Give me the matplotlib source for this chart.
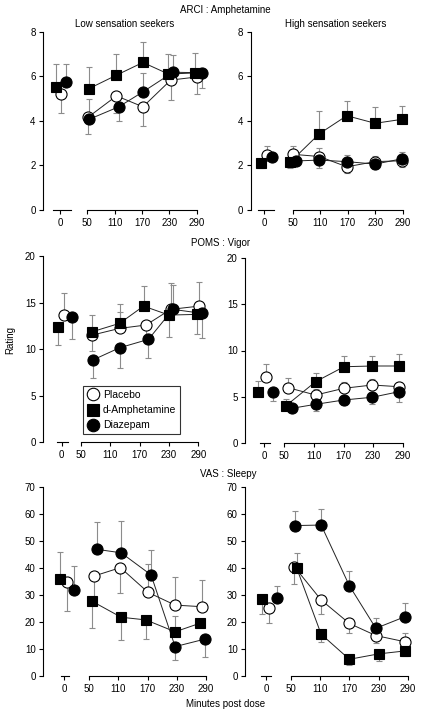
import matplotlib
matplotlib.use('Agg')
import matplotlib.pyplot as plt
from matplotlib.lines import Line2D

plt.rcParams['font.family'] = ['Liberation Sans', 'DejaVu Sans']
plt.rcParams['font.size'] = 7

# nominal time points (minutes post dose), first one is the baseline "0"
tick_labels = ['0', '50', '110', '170', '230', '290']

# ---- ARCI : Amphetamine ----
arci_low_pla = [5.2, 4.16, 5.12, 4.63, 5.83, 5.97]
arci_low_pla_err = [-0.86, -0.77, -0.75, -0.88, -0.9, -0.77]
arci_low_amp = [5.5, 5.45, 6.05, 6.62, 6.1, 6.15]
arci_low_amp_err = [1.07, 0.98, 0.93, 0.9, 0.92, 0.88]
arci_low_dia = [5.73, 4.07, 4.63, 5.3, 6.18, 6.16]
arci_low_dia_err = [0.8, 0.93, -0.64, 0.83, 0.77, -0.7]

arci_high_pla = [2.47, 2.5, 2.4, 1.94, 2.17, 2.21]
arci_high_pla_err = [0.41, 0.38, 0.37, -0.27, 0.25, -0.27]
arci_high_amp = [2.09, 2.14, 3.42, 4.23, 3.89, 4.07]
arci_high_amp_err = [-0.2, -0.27, 1.02, 0.66, 0.71, 0.61]
arci_high_dia = [2.37, 2.2, 2.24, 2.17, 2.06, 2.3]
arci_high_dia_err = [-0.15, -0.2, -0.37, 0.3, -0.2, 0.3]

# ---- POMS : Vigor ----
poms_low_pla = [13.66, 11.51, 12.23, 12.59, 14.27, 14.62]
poms_low_pla_err = [2.33, -1.68, 1.8, -1.7, 2.79, 2.61]
poms_low_amp = [12.34, 11.87, 12.77, 14.62, 13.66, 13.73]
poms_low_amp_err = [-1.9, 1.79, 2.04, 2.15, -2.33, -2.11]
poms_low_dia = [13.41, 8.83, 10.15, 11.05, 14.27, 13.84]
poms_low_dia_err = [-2.36, -1.96, -2.21, -2.04, 2.6, -2.68]

poms_high_pla = [7.18, 5.99, 5.2, 5.93, 6.28, 6.1]
poms_high_pla_err = [1.37, 1.01, 0.6, 0.71, 0.65, 0.54]
poms_high_amp = [5.5, 4.05, 6.64, 8.25, 8.33, 8.33]
poms_high_amp_err = [1.25, 0.72, 0.97, 1.16, 1.11, 1.26]
poms_high_dia = [5.5, 3.77, 4.2, 4.67, 4.96, 5.56]
poms_high_dia_err = [-0.94, -0.3, -0.69, -0.54, -0.73, -1.08]

# ---- VAS : Sleepy ----
vas_low_pla = [35.0, 37.1, 40.2, 31.0, 26.3, 25.7]
vas_low_pla_err = [-10.8, -8.0, -9.5, 10.5, 10.5, 9.9]
vas_low_amp = [36.0, 27.8, 21.8, 20.8, 16.4, 19.6]
vas_low_amp_err = [10.1, -10.1, -8.4, -7.1, 5.9, 0]
vas_low_dia = [31.9, 47.0, 45.7, 37.5, 10.9, 13.7]
vas_low_dia_err = [8.9, 10.2, 11.8, 9.2, -5.0, -6.8]

vas_high_pla = [25.3, 40.5, 28.2, 19.5, 15.0, 12.7]
vas_high_pla_err = [-5.8, -6.5, -5.3, -3.7, -2.9, 3.1]
vas_high_amp = [28.4, 39.9, 15.5, 6.2, 8.2, 9.3]
vas_high_amp_err = [-5.4, 5.6, -2.8, -2.0, -2.6, -2.0]
vas_high_dia = [29.1, 55.8, 56.0, 33.5, 17.7, 22.0]
vas_high_dia_err = [4.3, 5.4, 5.8, 5.4, 3.9, 5.2]

W, H = 422, 715
fig = plt.figure(figsize=(W / 100, H / 100), dpi=100)

ERR = '#8c8c8c'


def draw_series(ax, xs, ys, errs, marker, face, ms):
    lo = [-e if e < 0 else 0 for e in errs]
    hi = [e if e > 0 else 0 for e in errs]
    ax.errorbar(xs, ys, yerr=[lo, hi], fmt='none', ecolor=ERR, elinewidth=0.8,
                capsize=2, capthick=0.8, zorder=1, clip_on=False)
    ax.plot(xs[1:], ys[1:], '-', color='#222222', lw=0.7, zorder=2, clip_on=False)
    ax.plot(xs, ys, linestyle='none', marker=marker, ms=ms, mfc=face, mec='black',
            mew=0.8, zorder=3, clip_on=False)


def panel(box, ymax, yticks, base, seg, series, offs):
    # box: pixel geometry (left, x of 50, x of 290, right, y of ymax, y of 0)
    left, x50, x290, right, ytop, y0 = box
    sc = (x290 - x50) / 240
    ax = fig.add_axes([left / W, 1 - y0 / H, (right - left) / W, (y0 - ytop) / H])
    ax.set_xlim(50 - (x50 - left) / sc, 290 + (right - x290) / sc)
    ax.set_ylim(0, ymax)
    ax.patch.set_alpha(0)
    for s in ['top', 'right', 'bottom']:
        ax.spines[s].set_visible(False)
    ax.spines['left'].set_linewidth(0.8)
    ax.spines['left'].set_bounds(0, ymax)
    tpos = [base, 50, 110, 170, 230, 290]
    ax.set_xticks(tpos)
    ax.set_xticklabels(tick_labels)
    ax.set_yticks(yticks)
    ax.tick_params(direction='out', length=3, width=0.8, pad=2.5, labelsize=7)
    # broken x axis
    ax.plot([base + seg[0], base + seg[1]], [0, 0], color='black', lw=0.8, clip_on=False)
    ax.plot([50, 290], [0, 0], color='black', lw=0.8, clip_on=False)
    styles = [('o', 'white', 8), ('s', 'black', 7.8), ('o', 'black', 8)]
    for (ys, errs), off, st in zip(series, offs, styles):
        xs = [t + o for t, o in zip(tpos, off)]
        draw_series(ax, xs, ys, errs, *st)
    return ax


# x offsets of the plotted points from the nominal ticks (placebo, amphetamine, diazepam)
offs_tl = [[2, 1.5, 4, 2, 3, 1], [-9.5, 4, 4, 2, -2, -4], [12.5, 4, 9, 2, 8, 11]]
offs_tr = [[5, 0, -2, -2, 0, -1], [-7, -6, -2, -2, 0, -1], [16, 7, -2, -2, 0, -1]]
offs_ml = [[5, 23, 19, 13, 3.5, 1.5], [-7, 23, 19, 8, 0, -3], [21, 24, 19, 18, 8, 8]]
offs_mr = [[3, 8, 3.5, 1, -2, -7.5], [-12, 3.5, 3.5, 1, -2, -7.5], [17, 15, 3.5, 1, -2, -7.5]]
offs_bl = [[5, 10, 4, 1, -3.5, -7.5], [-9, 5, 5.5, -3.5, -3.5, -12], [20, 15, 5.5, 7, -3.5, -2]]
offs_br = [[7, 7, 2, 0, -5.5, -5.5], [-8, 12, 2, 0, 0, -5.5], [22.6, 8, 2, 0, -5.5, -5.5]]

panel((43.3, 87.3, 196.7, 210, 31.7, 210), 8, [0, 2, 4, 6, 8], -10, (-15, 24),
      [(arci_low_pla, arci_low_pla_err), (arci_low_amp, arci_low_amp_err),
       (arci_low_dia, arci_low_dia_err)], offs_tl)
panel((251, 292.7, 402.7, 415, 31.7, 210), 8, [0, 2, 4, 6, 8], -12, (-14, 22),
      [(arci_high_pla, arci_high_pla_err), (arci_high_amp, arci_high_amp_err),
       (arci_high_dia, arci_high_dia_err)], offs_tr)
ax_ml = panel((43.3, 81, 198.3, 210, 256, 442.3), 20, [0, 5, 10, 15, 20], 10.5, (-9, 13),
              [(poms_low_pla, poms_low_pla_err), (poms_low_amp, poms_low_amp_err),
               (poms_low_dia, poms_low_dia_err)], offs_ml)
panel((245.3, 284.3, 402.7, 415, 257.7, 443.3), 20, [0, 5, 10, 15, 20], 9.4, (-8, 12),
      [(poms_high_pla, poms_high_pla_err), (poms_high_amp, poms_high_amp_err),
       (poms_high_dia, poms_high_dia_err)], offs_mr)
panel((43.3, 89.3, 206, 212, 487.3, 676), 70, list(range(0, 71, 10)), -1.4, (-7, 10),
      [(vas_low_pla, vas_low_pla_err), (vas_low_amp, vas_low_amp_err),
       (vas_low_dia, vas_low_dia_err)], offs_bl)
panel((245.3, 291, 407.7, 418, 487.3, 676), 70, list(range(0, 71, 10)), -1.4, (-10, 10),
      [(vas_high_pla, vas_high_pla_err), (vas_high_amp, vas_high_amp_err),
       (vas_high_dia, vas_high_dia_err)], offs_br)

# legend
handles = [Line2D([], [], ls='none', marker='o', ms=9, mfc='white', mec='black', mew=0.8),
           Line2D([], [], ls='none', marker='s', ms=9, mfc='black', mec='black', mew=0.8),
           Line2D([], [], ls='none', marker='o', ms=9, mfc='black', mec='black', mew=0.8)]
leg = ax_ml.legend(handles, ['Placebo', 'd-Amphetamine', 'Diazepam'], loc='lower left',
                   bbox_to_anchor=(83.3 / W, 1 - 434 / H), bbox_transform=fig.transFigure,
                   borderaxespad=0, frameon=True, fancybox=False, edgecolor='black',
                   handlelength=1.2, handletextpad=0.35, labelspacing=0.5, borderpad=0.35,
                   fontsize=7.5)
leg.get_frame().set_linewidth(0.8)


def ftext(x, y, s, **kw):
    fig.text(x / W, 1 - y / H, s, ha='center', va='center', **kw)


ftext(225, 10, 'ARCI : Amphetamine')
ftext(124.5, 24, 'Low sensation seekers')
ftext(336, 24, 'High sensation seekers')
ftext(221, 243, 'POMS : Vigor')
ftext(228, 474, 'VAS : Sleepy')
ftext(225.5, 704, 'Minutes post dose')
ftext(10.7, 340, 'Rating', rotation=90)

fig.savefig('out.png', dpi=100)
